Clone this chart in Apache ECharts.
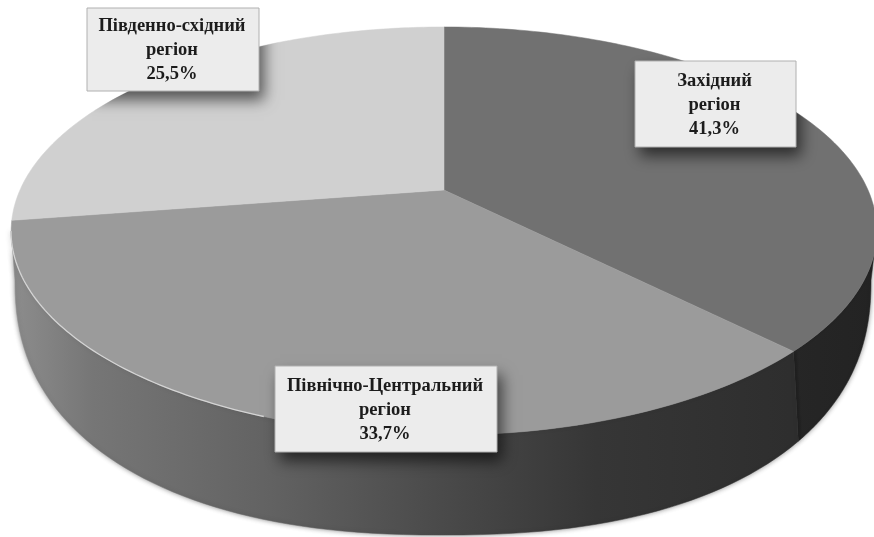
<!DOCTYPE html>
<html><head><meta charset="utf-8">
<style>html,body{margin:0;padding:0;background:#fff}#c{width:874px;height:537px}</style>
<script src="https://cdn.jsdelivr.net/npm/echarts@6/dist/echarts.min.js"></script>
</head><body><div id="c"></div>
<script>
// Printed labels
const regions = ['Західний\nрегіон', 'Північно-Центральний\nрегіон', 'Південно-східний\nрегіон'];
const printedShares = [41.3, 33.7, 25.5];
// Share of the full turn each slice actually occupies once the perspective is undone
const drawnShares = [37.5, 35.1, 27.4];
const faceColors = ['#717171', '#9b9b9b', '#d0d0d0'];
const labelBoxes = [[635, 61, 161, 86], [275, 366, 222, 86], [87, 8, 172, 83]];

// Perspective disc
const ax = 444, ay = 190, k = 0.201, A = 195.8, B = 424;
const cx = 444, cy = 231, rx = 433, ry = 204;
const bcx = 443, bcy = 280, brx = 428, bry = 255, bexp = 2 / 2.3;
const proj = t => { const u = Math.sin(t), v = Math.cos(t), d = 1 + k * v; return [ax + B * u / d, ay - A * v / d]; };
const rim = f => [cx + rx * Math.cos(f), cy + ry * Math.sin(f)];
const base = f => {
  const c = Math.cos(f), s = Math.sin(f);
  return [bcx + brx * Math.sign(c) * Math.pow(Math.abs(c), bexp), bcy + bry * Math.sign(s) * Math.pow(Math.abs(s), bexp)];
};
const front = t => {
  const p = proj(t), f = Math.atan2((p[1] - cy) / ry, (p[0] - cx) / rx);
  return f >= 0 ? f : (Math.cos(f) >= 0 && Math.sin(t) >= 0 ? 0 : Math.PI);
};
const range = (a, b, n) => Array.from({length: n + 1}, (_, i) => a + (b - a) * i / n);
const silhouette = range(0, 2 * Math.PI, 180).map(f => f <= Math.PI ? base(f) : rim(f));
const grad = (x0, x1, stops) => new echarts.graphic.LinearGradient(x0, 0, x1, 0,
  stops.map(s => ({offset: s[0], color: s[1]})), true);
const wallFill = [
  grad(790, 874, [[0, '#262626'], [1, '#232323']]),
  grad(15, 790, [[0, '#8c8c8c'], [0.1, '#767676'], [0.33, '#626262'], [0.55, '#4a4a4a'], [0.75, '#363636'], [1, '#2e2e2e']]),
  '#888'
];

function renderSlice(params, api) {
  const i = params.dataIndex;
  const turn = 2 * Math.PI / drawnShares.reduce((a, b) => a + b, 0);
  const t0 = drawnShares.slice(0, i).reduce((a, b) => a + b, 0) * turn;
  const t1 = t0 + api.value(0) * turn;
  const children = [];
  const f0 = front(t0), f1 = front(t1);
  if (f1 > f0) {
    const fs = range(f0, f1, 80);
    const pts = fs.map(rim).concat(fs.slice().reverse().map(base));
    children.push({type: 'polygon', shape: {points: pts},
      style: {fill: wallFill[i], stroke: wallFill[i], lineWidth: 0.5, shadowBlur: 5, shadowColor: 'rgba(0,0,0,0.45)'}, z2: 1});
  }
  const top = [[ax, ay]].concat(range(t0, t1, 120).map(proj));
  children.push({type: 'polygon', shape: {points: top},
    style: {fill: faceColors[i], stroke: faceColors[i], lineWidth: 0.5}, z2: 2});
  if (i === 1) {
    children.push({type: 'polyline', shape: {points: range(2.0, Math.PI, 60).map(rim)},
      style: {fill: null, stroke: '#d4d4d4', lineWidth: 1.3}, z2: 3});
  }
  return {type: 'group', children};
}

function renderLabel(params, api) {
  const i = params.dataIndex, b = labelBoxes[i];
  const text = regions[i] + '\n' + String(api.value(0)).replace('.', ',') + '%';
  return {type: 'group', children: [
    {type: 'rect', shape: {x: b[0], y: b[1], width: b[2], height: b[3]},
      clipPath: {type: 'polygon', shape: {points: silhouette}},
      style: {fill: '#555', shadowBlur: 14, shadowOffsetX: 5, shadowOffsetY: 9, shadowColor: 'rgba(0,0,0,0.6)'}, z2: 5},
    {type: 'rect', shape: {x: b[0], y: b[1], width: b[2], height: b[3]},
      style: {fill: '#ececec', stroke: '#b0b0b0', lineWidth: 1}, z2: 6},
    {type: 'text', z2: 7, style: {x: b[0] + b[2] / 2 - 1, y: b[1] + b[3] / 2 + 1, text, align: 'center', verticalAlign: 'middle',
      font: 'bold 18.5px "Liberation Serif"', lineHeight: 24, fill: '#1c1c1c'}}
  ]};
}

const chart = echarts.init(document.getElementById('c'), null, {renderer: 'canvas'});
chart.setOption({
  animation: false,
  backgroundColor: '#fff',
  series: [
    {type: 'custom', coordinateSystem: 'none', renderItem: renderSlice, data: drawnShares.map(v => [v]), silent: true},
    {type: 'custom', coordinateSystem: 'none', renderItem: renderLabel, data: printedShares.map(v => [v]), silent: true, z: 5}
  ]
});
</script></body></html>
